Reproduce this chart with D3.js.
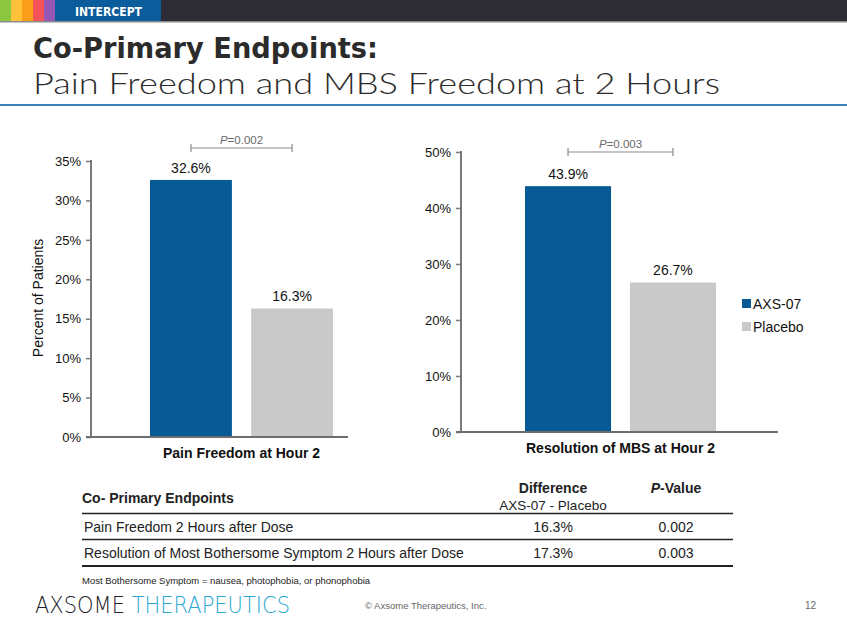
<!DOCTYPE html>
<html>
<head>
<meta charset="utf-8">
<script src="https://cdn.jsdelivr.net/npm/d3@7/dist/d3.min.js"></script>
<style>
  html, body { margin: 0; padding: 0; background: #fff; }
  svg { display: block; }
  text { font-family: "Liberation Sans", Arial, sans-serif; }
</style>
</head>
<body>
<svg id="chart" width="847" height="635"></svg>
<script>
// ---------------- DATA ----------------
const seriesNames = ["AXS-07", "Placebo"];
const seriesColors = ["#075a96", "#c9c9c9"];

const painCategory = ["Pain Freedom at Hour 2"];
const painValues = [32.6, 16.3];
const painTicks = [0, 5, 10, 15, 20, 25, 30, 35];
const painPValue = "0.002";

const mbsCategory = ["Resolution of MBS at Hour 2"];
const mbsValues = [43.9, 26.7];
const mbsTicks = [0, 10, 20, 30, 40, 50];
const mbsPValue = "0.003";

const tableHeader = ["Co- Primary Endpoints", "Difference", "P-Value"];
const tableSubHeader = "AXS-07 - Placebo";
const tableEndpoints = ["Pain Freedom 2 Hours after Dose", "Resolution of Most Bothersome Symptom 2 Hours after Dose"];
const tableDifferences = ["16.3%", "17.3%"];
const tablePValues = ["0.002", "0.003"];

const headerStripes = ["#8cc63f", "#fdc13a", "#fb9f1b", "#f5545a", "#9558b4"];

// ---------------- SETUP ----------------
const svg = d3.select("#chart");

// header bar
svg.append("rect").attr("x", 0).attr("y", 0).attr("width", 847).attr("height", 21).attr("fill", "#2d2c35");
headerStripes.forEach((c, i) => {
  svg.append("rect").attr("x", i * 11).attr("y", 0).attr("width", 11).attr("height", 21).attr("fill", c);
});
svg.append("rect").attr("x", 55).attr("y", 0).attr("width", 106).attr("height", 21).attr("fill", "#0b5c9b");
svg.append("rect").attr("x", 0).attr("y", 21).attr("width", 847).attr("height", 1.5).attr("fill", "#8c8c8c");
svg.append("text").attr("x", 75).attr("y", 16).attr("fill", "#fff")
  .style("font-family", "'DejaVu Sans', sans-serif").style("font-weight", "bold").style("font-size", "13px")
  .attr("textLength", 67).attr("lengthAdjust", "spacingAndGlyphs").text("INTERCEPT");

// title
svg.append("text").attr("x", 33).attr("y", 58).attr("fill", "#2b2b2b")
  .style("font-family", "'DejaVu Sans', sans-serif").style("font-weight", "bold").style("font-size", "28px")
  .attr("textLength", 345).attr("lengthAdjust", "spacingAndGlyphs").text("Co-Primary Endpoints:");
svg.append("text").attr("x", 33).attr("y", 94).attr("fill", "#2b2b2b")
  .style("font-family", "'Lato', sans-serif").style("font-weight", "300").style("font-size", "29px")
  .attr("textLength", 687).attr("lengthAdjust", "spacingAndGlyphs").text("Pain Freedom and MBS Freedom at 2 Hours");
svg.append("rect").attr("x", 0).attr("y", 104).attr("width", 847).attr("height", 2).attr("fill", "#3d81b6");

// ---------------- CHART FUNCTION ----------------
function drawChart(opts) {
  const g = svg.append("g");
  const y = d3.scaleLinear().domain([0, d3.max(opts.ticks)]).range([opts.y0, opts.y1]);
  const x0 = d3.scaleBand().domain(opts.category).range([opts.gx0, opts.gx1]).padding(0);
  const x1 = d3.scaleBand().domain(seriesNames).range([0, x0.bandwidth()]).paddingInner(opts.inner);

  // bars
  const grp = g.selectAll("g.grp").data(opts.category).join("g").attr("class", "grp")
    .attr("transform", d => `translate(${x0(d)},0)`);
  grp.selectAll("rect").data(seriesNames.map((s, i) => ({ s, v: opts.values[i], c: seriesColors[i] })))
    .join("rect")
    .attr("x", d => x1(d.s)).attr("width", x1.bandwidth())
    .attr("y", d => y(d.v)).attr("height", d => y(0) - y(d.v))
    .attr("fill", d => d.c);
  grp.selectAll("text.val").data(seriesNames.map((s, i) => ({ s, v: opts.values[i] })))
    .join("text").attr("class", "val")
    .attr("x", d => x1(d.s) + x1.bandwidth() / 2).attr("y", d => y(d.v) - 7)
    .attr("text-anchor", "middle").attr("fill", "#111").style("font-size", "14px")
    .text(d => d.v.toFixed(1) + "%");

  // y axis
  const yAxis = d3.axisLeft(y).tickValues(opts.ticks).tickFormat(d => d + "%").tickSize(5).tickPadding(5);
  const ya = g.append("g").attr("transform", `translate(${opts.axisX},0)`).call(yAxis);
  ya.select(".domain").attr("stroke", "#7a7a7a").attr("stroke-width", 2).attr("d", `M0,${opts.y0}V${opts.y1 - 1}`);
  ya.selectAll(".tick line").attr("stroke", "#7a7a7a").attr("stroke-width", 1.5);
  ya.selectAll(".tick text").attr("fill", "#111").style("font-size", "13px")
    .style("font-family", "'Liberation Sans', Arial, sans-serif");

  // x axis
  const xAxis = d3.axisBottom(x0).tickSize(0).tickPadding(11);
  const xa = g.append("g").attr("transform", `translate(0,${opts.y0})`).call(xAxis);
  xa.select(".domain").attr("stroke", "#6e6e6e").attr("stroke-width", 2)
    .attr("d", `M${opts.axisX - 5},0H${opts.axisEnd}`);
  xa.selectAll(".tick text").attr("fill", "#111").style("font-size", "14px").style("font-weight", "bold")
    .style("font-family", "'Liberation Sans', Arial, sans-serif").attr("dy", opts.labelDy);

  // p-value bracket
  const cx = x0(opts.category[0]);
  const bx0 = cx + x1(seriesNames[0]) + x1.bandwidth() / 2;
  const bx1 = cx + x1(seriesNames[1]) + x1.bandwidth() / 2;
  g.append("path").attr("d", `M${bx0},${opts.by - 4}V${opts.by + 4}M${bx0},${opts.by}H${bx1}M${bx1},${opts.by - 4}V${opts.by + 4}`)
    .attr("stroke", "#8a8a8a").attr("stroke-width", 1.2).attr("fill", "none");
  const pt = g.append("text").attr("x", (bx0 + bx1) / 2).attr("y", opts.by - 4)
    .attr("text-anchor", "middle").attr("fill", "#6a6a6a").style("font-size", "11.5px");
  pt.append("tspan").style("font-style", "italic").text("P");
  pt.append("tspan").text("=" + opts.p);
}

drawChart({
  category: painCategory, values: painValues, ticks: painTicks, p: painPValue,
  y0: 437, y1: 161, axisX: 91, axisEnd: 348, gx0: 150, gx1: 333, inner: 0.19, by: 148, labelDy: "0.71em"
});
drawChart({
  category: mbsCategory, values: mbsValues, ticks: mbsTicks, p: mbsPValue,
  y0: 432, y1: 152, axisX: 461, axisEnd: 778, gx0: 525, gx1: 716, inner: 0.18, by: 152, labelDy: "0.71em"
});

// y-axis title (left chart)
svg.append("text").attr("transform", "translate(43,298) rotate(-90)").attr("text-anchor", "middle")
  .attr("fill", "#111").style("font-size", "14px").text("Percent of Patients");

// legend
const leg = svg.append("g").attr("transform", "translate(742,299)");
seriesNames.forEach((s, i) => {
  leg.append("rect").attr("x", 0).attr("y", i * 23).attr("width", 9).attr("height", 9).attr("fill", seriesColors[i]);
  leg.append("text").attr("x", 11).attr("y", i * 23 + 9.5).attr("fill", "#111").style("font-size", "14px").text(s);
});

// ---------------- TABLE ----------------
const tbl = svg.append("g");
const colX = [82, 553, 676];
tbl.append("text").attr("x", colX[0]).attr("y", 503).attr("fill", "#222").style("font-size", "14px").style("font-weight", "bold").text(tableHeader[0]);
tbl.append("text").attr("x", colX[1]).attr("y", 493).attr("text-anchor", "middle").attr("fill", "#222").style("font-size", "14px").style("font-weight", "bold").text(tableHeader[1]);
tbl.append("text").attr("x", colX[1]).attr("y", 510).attr("text-anchor", "middle").attr("fill", "#222").style("font-size", "13.5px").text(tableSubHeader);
const ph = tbl.append("text").attr("x", colX[2]).attr("y", 493).attr("text-anchor", "middle").attr("fill", "#222").style("font-size", "14px").style("font-weight", "bold");
ph.append("tspan").style("font-style", "italic").text("P");
ph.append("tspan").text("-Value");

const lineYs = [513.5, 539.5];
lineYs.forEach(ly => tbl.append("line").attr("x1", 82).attr("x2", 733).attr("y1", ly).attr("y2", ly).attr("stroke", "#222").attr("stroke-width", 1.5));
tbl.append("line").attr("x1", 82).attr("x2", 733).attr("y1", 566).attr("y2", 566).attr("stroke", "#222").attr("stroke-width", 2.2);

tableEndpoints.forEach((e, i) => {
  const ry = 532 + i * 26;
  tbl.append("text").attr("x", 84).attr("y", ry).attr("fill", "#222").style("font-size", "14px").text(e);
  tbl.append("text").attr("x", colX[1]).attr("y", ry).attr("text-anchor", "middle").attr("fill", "#222").style("font-size", "14px").text(tableDifferences[i]);
  tbl.append("text").attr("x", colX[2]).attr("y", ry).attr("text-anchor", "middle").attr("fill", "#222").style("font-size", "14px").text(tablePValues[i]);
});

// footnote
svg.append("text").attr("x", 82).attr("y", 584).attr("fill", "#222").style("font-size", "9.5px")
  .text("Most Bothersome Symptom = nausea, photophobia, or phonophobia");

// ---------------- FOOTER ----------------
const ft = svg.append("text").attr("x", 35).attr("y", 613)
  .style("font-family", "'DejaVu Sans', sans-serif").style("font-size", "23px").style("font-weight", "300")
  .attr("textLength", 255).attr("lengthAdjust", "spacingAndGlyphs");
ft.append("tspan").attr("fill", "#23222b").text("AXSOME ");
ft.append("tspan").attr("fill", "#2aa8d2").text("THERAPEUTICS");
svg.append("text").attr("x", 365).attr("y", 609).attr("fill", "#666").style("font-size", "9.5px").text("© Axsome Therapeutics, Inc.");
svg.append("text").attr("x", 816).attr("y", 609).attr("text-anchor", "end").attr("fill", "#666").style("font-size", "10px").text("12");
</script>
</body>
</html>
